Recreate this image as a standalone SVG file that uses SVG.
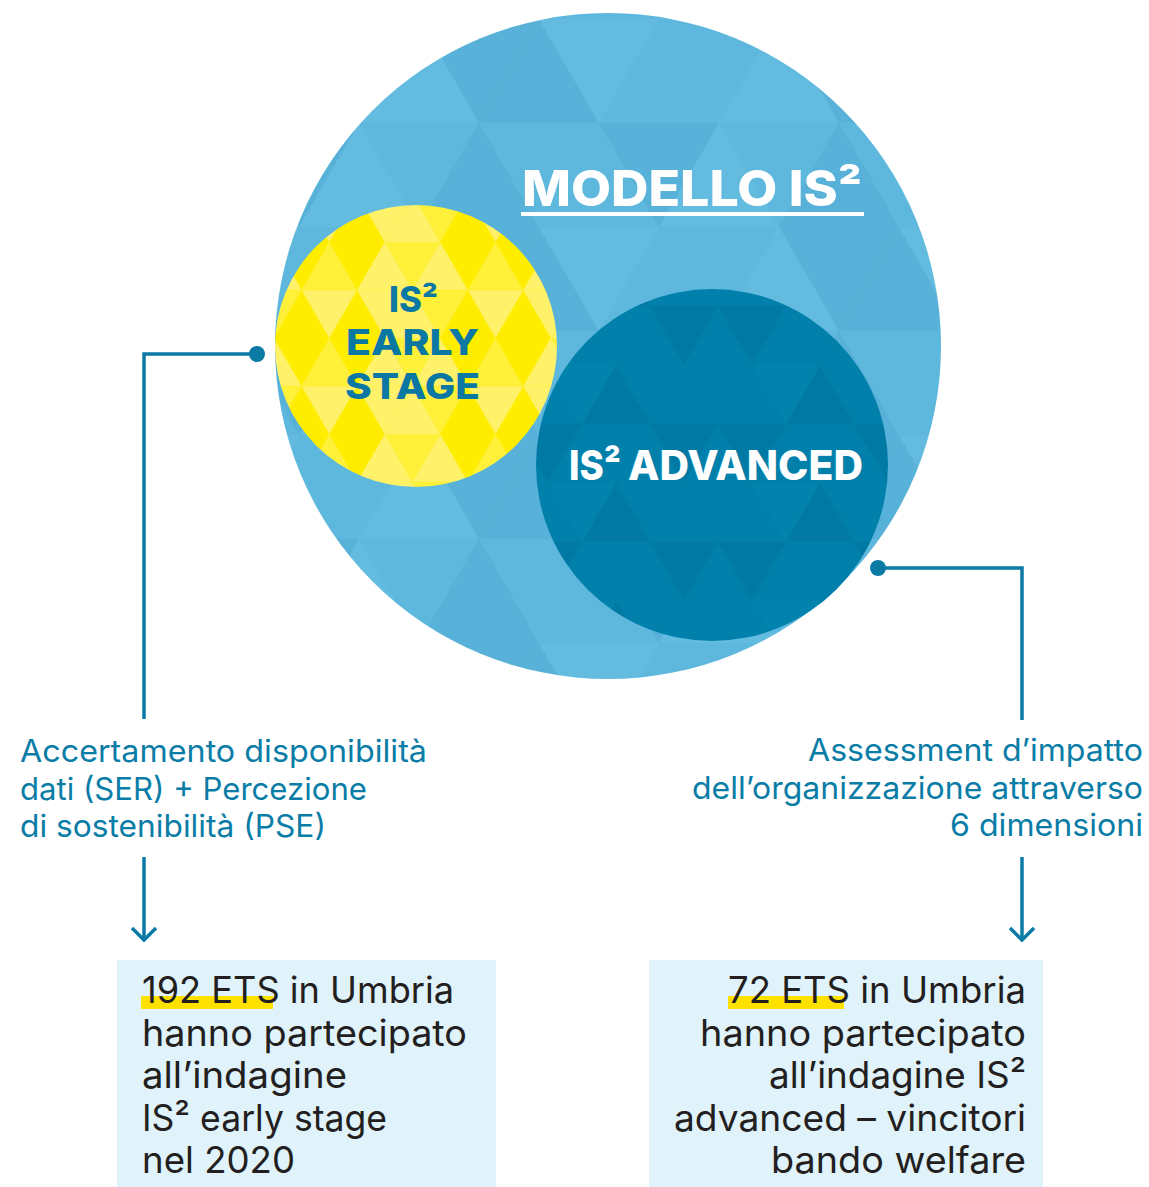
<svg xmlns="http://www.w3.org/2000/svg" width="1149" height="1187" viewBox="0 0 1149 1187">
<style>
.h{font-family:Inter,"Liberation Sans",sans-serif;font-weight:800}
.lbl{font-family:Inter,"Liberation Sans",sans-serif;font-size:31px;fill:#0A7DA7}
.bx{font-family:Inter,"Liberation Sans",sans-serif;font-size:37px;fill:#231F20}
.conn{fill:none;stroke:#0B7BA5;stroke-width:3.5}
.box{fill:#E0F2FA}
.hl{fill:#FFE100}
</style>
<defs>
<pattern id="pBig" patternUnits="userSpaceOnUse" width="360" height="208" patternTransform="translate(479,19)">
<rect width="360" height="208" fill="#5EB7DD"/>
<g fill="#58B1D8">
<polygon points="60,0 0,104 120,104"/>
<polygon points="300,0 420,0 360,104"/><polygon points="-60,0 60,0 0,104"/>
<polygon points="120,104 240,104 180,208"/>
<polygon points="0,104 -60,208 60,208"/><polygon points="360,104 300,208 420,208"/>
</g>
<g fill="#63BBE0">
<polygon points="60,0 180,0 120,104"/>
<polygon points="300,0 240,104 360,104"/>
<polygon points="240,104 180,208 300,208"/>
</g>
</pattern>
<pattern id="pYel" patternUnits="userSpaceOnUse" width="360" height="208" patternTransform="translate(357,146) scale(0.4617)">
<rect width="360" height="208" fill="#FFED00"/>
<g fill="#FFF26A">
<polygon points="60,0 0,104 120,104"/>
<polygon points="180,0 120,104 240,104"/>
<polygon points="120,104 60,208 180,208"/>
<polygon points="0,104 120,104 60,208"/>
<polygon points="240,104 360,104 300,208"/>
</g>
<g fill="#FFF03A">
<polygon points="60,0 180,0 120,104"/>
<polygon points="300,0 240,104 360,104"/>
<polygon points="120,104 240,104 180,208"/>
</g>
</pattern>
<pattern id="pAdv" patternUnits="userSpaceOnUse" width="360" height="208" patternTransform="translate(684,306) scale(0.5667)">
<rect width="360" height="208" fill="#0080AB"/>
<g fill="#007AA5">
<polygon points="60,0 180,0 120,104"/>
<polygon points="240,104 180,208 300,208"/>
<polygon points="300,0 420,0 360,104"/><polygon points="-60,0 60,0 0,104"/>
</g>
<g fill="#0283AE">
<polygon points="120,104 240,104 180,208"/>
</g>
</pattern>
<marker id="dot" markerUnits="userSpaceOnUse" viewBox="0 0 20 20" refX="10" refY="10" markerWidth="20" markerHeight="20">
<circle cx="10" cy="10" r="8" fill="#0B7BA5"/>
</marker>
<marker id="chev" markerUnits="userSpaceOnUse" viewBox="-16 -16 32 32" refX="0" refY="0" markerWidth="32" markerHeight="32" orient="auto" overflow="visible">
<path d="M-12,-12 L0,0 L-12,12" fill="none" stroke="#0B7BA5" stroke-width="3.5"/>
</marker>
</defs>

<g id="node-modello">
<circle cx="608" cy="346" r="333" fill="url(#pBig)"/>
<text class="h" x="522" y="206" font-size="50" fill="#FFFFFF" font-weight="700" textLength="340" lengthAdjust="spacingAndGlyphs">MODELLO IS²</text>
<rect x="521" y="212" width="343" height="4" fill="#FFFFFF"/>
</g>

<g id="node-early">
<circle cx="416" cy="346" r="141" fill="url(#pYel)"/>
<text class="h" font-size="35" fill="#0A78A3"><tspan x="389" y="312" textLength="49" lengthAdjust="spacingAndGlyphs">IS²</tspan><tspan x="346" y="355" textLength="133" lengthAdjust="spacingAndGlyphs">EARLY</tspan><tspan x="345" y="399" textLength="135" lengthAdjust="spacingAndGlyphs">STAGE</tspan></text>
</g>

<g id="node-advanced">
<circle cx="712" cy="465" r="176" fill="url(#pAdv)"/>
<text class="h" y="480" font-size="41" fill="#FFFFFF" font-weight="700"><tspan x="569" textLength="52" lengthAdjust="spacingAndGlyphs">IS²</tspan><tspan x="628" textLength="235" lengthAdjust="spacingAndGlyphs">ADVANCED</tspan></text>
</g>

<g id="connectors">
<path class="conn" d="M257,354 H144 V719" marker-start="url(#dot)"/>
<path class="conn" d="M144,857 V940" marker-end="url(#chev)"/>
<path class="conn" d="M878,568 H1022 V720" marker-start="url(#dot)"/>
<path class="conn" d="M1022,857 V940" marker-end="url(#chev)"/>
</g>

<g id="label-left">
<text class="lbl" x="20" y="762" textLength="407" lengthAdjust="spacingAndGlyphs">Accertamento disponibilità</text>
<text class="lbl" x="20" y="800" textLength="347" lengthAdjust="spacingAndGlyphs">dati (SER) + Percezione</text>
<text class="lbl" x="20" y="837" textLength="306" lengthAdjust="spacingAndGlyphs">di sostenibilità (PSE)</text>
</g>

<g id="label-right">
<text class="lbl" x="808" y="761" textLength="335" lengthAdjust="spacingAndGlyphs">Assessment d’impatto</text>
<text class="lbl" x="692" y="799" textLength="451" lengthAdjust="spacingAndGlyphs">dell’organizzazione attraverso</text>
<text class="lbl" x="950" y="836" textLength="193" lengthAdjust="spacingAndGlyphs">6 dimensioni</text>
</g>

<g id="box-left">
<rect class="box" x="117" y="960" width="379" height="227"/>
<rect class="hl" x="141" y="996" width="132" height="13"/>
<text class="bx" x="142" y="1003" textLength="312" lengthAdjust="spacingAndGlyphs">192 ETS in Umbria</text>
<text class="bx" x="142" y="1046" textLength="325" lengthAdjust="spacingAndGlyphs">hanno partecipato</text>
<text class="bx" x="142" y="1088" textLength="205" lengthAdjust="spacingAndGlyphs">all’indagine</text>
<text class="bx" x="142" y="1131" textLength="245" lengthAdjust="spacingAndGlyphs">IS² early stage</text>
<text class="bx" x="142" y="1173" textLength="153" lengthAdjust="spacingAndGlyphs">nel 2020</text>
</g>

<g id="box-right">
<rect class="box" x="649" y="960" width="394" height="227"/>
<rect class="hl" x="728" y="996" width="116" height="13"/>
<text class="bx" x="728" y="1003" textLength="298" lengthAdjust="spacingAndGlyphs">72 ETS in Umbria</text>
<text class="bx" x="700" y="1046" textLength="326" lengthAdjust="spacingAndGlyphs">hanno partecipato</text>
<text class="bx" x="769" y="1088" textLength="257" lengthAdjust="spacingAndGlyphs">all’indagine IS²</text>
<text class="bx" x="674" y="1131" textLength="352" lengthAdjust="spacingAndGlyphs">advanced – vincitori</text>
<text class="bx" x="771" y="1173" textLength="255" lengthAdjust="spacingAndGlyphs">bando welfare</text>
</g>
</svg>
